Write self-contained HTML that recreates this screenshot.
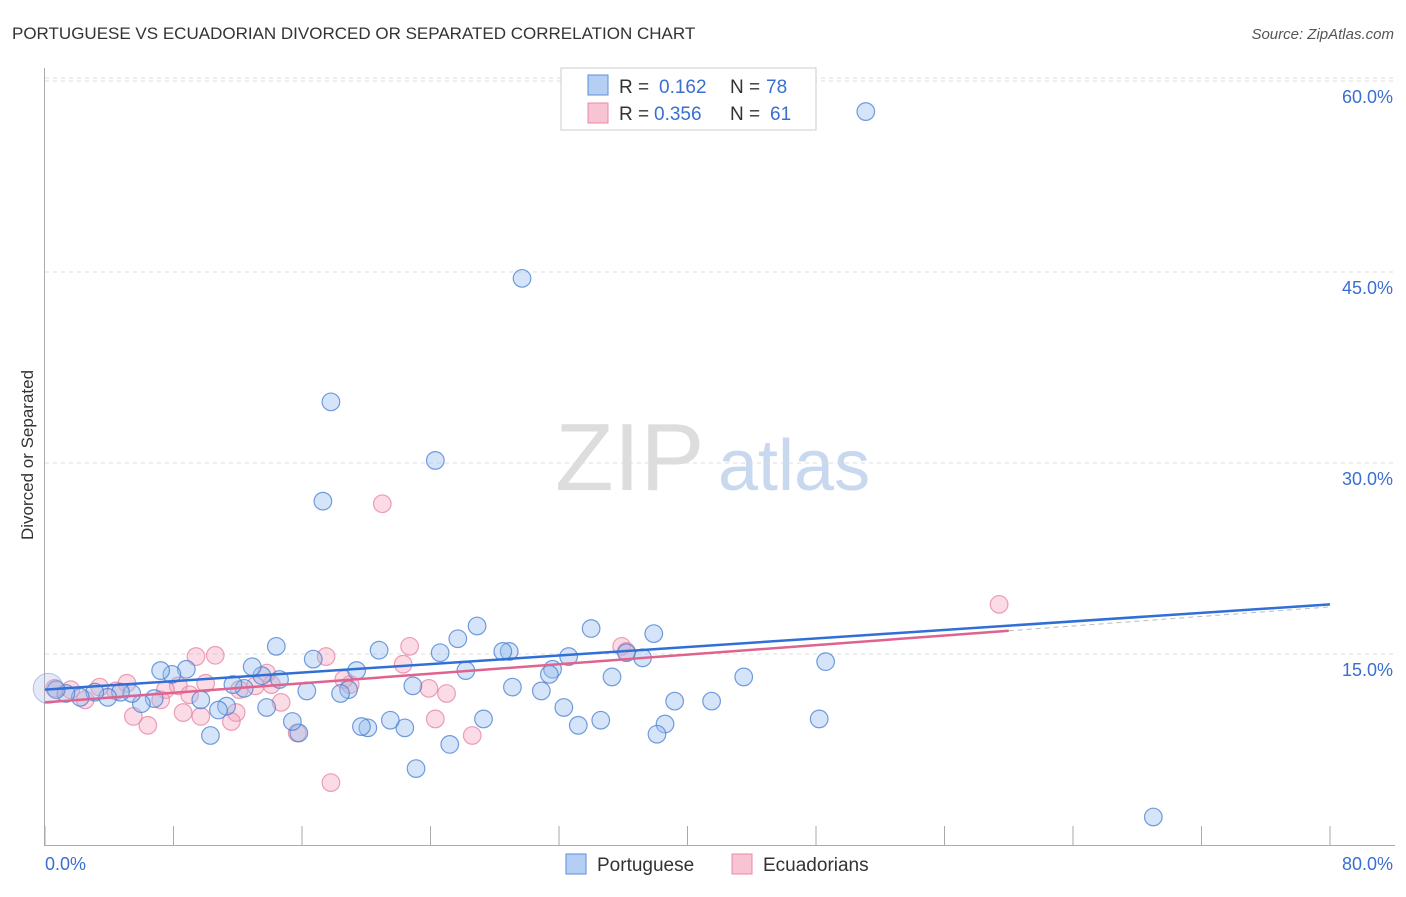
<!DOCTYPE html>
<html><head><meta charset="utf-8"><style>
body{margin:0;background:#fff;font-family:"Liberation Sans",sans-serif}
svg text{font-family:"Liberation Sans",sans-serif}
</style></head><body>
<svg id="c" width="1406" height="892">
<text x="12" y="39" font-size="17" fill="#333">PORTUGUESE VS ECUADORIAN DIVORCED OR SEPARATED CORRELATION CHART</text>
<text x="1394" y="39" font-size="15" fill="#555" text-anchor="end" font-style="italic">Source: ZipAtlas.com</text>
<text x="33" y="455" font-size="17" fill="#333" text-anchor="middle" transform="rotate(-90 33 455)">Divorced or Separated</text>
<text x="555" y="490" font-size="96" fill="#ddd" font-family="Liberation Serif">ZIP</text>
<text x="718" y="490" font-size="72" fill="#c8d8ef">atlas</text>
<g id="grid"></g><g id="pts"></g><g id="lines"></g>
<g>
<rect x="561" y="68" width="255" height="62" fill="#fff" stroke="#ccc"/>
<rect x="588" y="75" width="20" height="20" fill="#b4cff3" stroke="#5b8fd9"/>
<text x="619" y="93" font-size="19" fill="#333">R =</text>
<text x="659" y="93" font-size="19" fill="#3a6fd0">0.162</text>
<text x="730" y="93" font-size="19" fill="#333">N =</text>
<text x="766" y="93" font-size="19" fill="#3a6fd0">78</text>
<rect x="588" y="103" width="20" height="20" fill="#f8c3d2" stroke="#e88aa5"/>
<text x="619" y="120" font-size="19" fill="#333">R =</text>
<text x="654" y="120" font-size="19" fill="#3a6fd0">0.356</text>
<text x="730" y="120" font-size="19" fill="#333">N =</text>
<text x="770" y="120" font-size="19" fill="#3a6fd0">61</text>
</g>
<g>
<rect x="566" y="854" width="20" height="20" fill="#b4cff3" stroke="#5b8fd9"/>
<text x="597" y="871" font-size="19" fill="#333">Portuguese</text>
<rect x="732" y="854" width="20" height="20" fill="#f8c3d2" stroke="#e88aa5"/>
<text x="763" y="871" font-size="19" fill="#333">Ecuadorians</text>
</g>
</svg>
<script>
const blueX=[51.1,29.7,17.8,24.3,17.3,69.0,48.6,48.2,43.5,41.5,39.2,37.9,37.2,36.2,35.3,38.6,38.1,34.6,34.0,33.2,32.6,32.3,31.6,31.4,30.9,29.1,28.9,28.5,27.3,26.9,26.2,25.7,25.2,24.6,23.1,22.9,22.4,21.5,20.8,20.1,19.7,19.4,18.9,18.4,16.7,16.3,15.8,15.4,14.6,14.4,13.8,13.5,12.9,12.4,11.7,11.3,10.8,10.3,9.7,8.8,7.9,7.2,6.8,6.0,5.4,4.7,3.9,3.1,2.2,1.3,0.7];
const blueY=[57.6,44.5,34.8,30.2,27.0,2.2,14.4,9.9,13.2,11.3,11.3,16.6,14.7,15.1,13.2,9.5,8.7,9.8,17.0,9.4,14.8,10.8,13.8,13.4,12.1,12.4,15.2,15.2,9.9,17.2,13.7,16.2,7.9,15.1,6.0,12.5,9.2,9.8,15.3,9.2,9.3,13.7,12.2,11.9,14.6,12.1,8.8,9.7,13.0,15.6,10.8,13.3,14.0,12.3,12.6,10.9,10.6,8.6,11.4,13.8,13.4,13.7,11.5,11.1,11.9,12.0,11.6,12.0,11.6,11.9,12.2];
const pinkX=[59.4,21.0,17.8,26.6,24.3,25.0,23.9,22.7,22.3,19.0,18.6,17.5,15.7,14.7,14.1,13.8,13.1,11.9,11.6,10.6,9.7,9.4,8.6,8.3,7.5,6.4,5.5,5.1,4.4,3.4,2.5,1.6,0.6,35.9,36.2,10.0,12.1,7.2,9.0];
const pinkY=[18.9,26.8,4.9,8.6,9.9,11.9,12.3,15.6,14.2,12.6,13.0,14.8,8.8,11.2,12.6,13.5,12.5,10.4,9.7,14.9,10.1,14.8,10.4,12.5,12.2,9.4,10.1,12.7,12.1,12.4,11.4,12.2,12.3,15.6,15.2,12.7,12.2,11.4,11.8];
const blueTrend=[12.2,18.9];
const pinkTrend=[11.2,18.7];
const pinkSolidEnd=60;
const xTicks=[0,8,16,24,32,40,48,56,64,72,80];
const yTicks=[15,30,45,60];
const yLabels=["15.0%","30.0%","45.0%","60.0%"];
const xs=v=>45+v/80*1285, ys=v=>845-v/15*191;
const NS="http://www.w3.org/2000/svg";
function mk(t,a,p){const e=document.createElementNS(NS,t);for(const k in a)e.setAttribute(k,a[k]);p.appendChild(e);return e;}
const gridG=document.getElementById('grid');
yTicks.forEach((v,i)=>{
 const l=mk('line',{x1:45,x2:1395,y1:ys(v),y2:ys(v),stroke:'#ddd','stroke-dasharray':'4 4'},gridG);
 
 
 const t=mk('text',{x:1393,y:ys(v)+22,'font-size':18,fill:'#3a6fd0','text-anchor':'end'},gridG);t.textContent=yLabels[i];
 
 
});
const topLine=mk('line',{x1:45,x2:1395,y1:78,y2:78,stroke:'#ddd','stroke-dasharray':'4 4'},gridG);


const yAxis=mk('line',{x1:44.5,x2:44.5,y1:68,y2:845,stroke:'#aaa'},gridG);


const xAxis=mk('line',{x1:44,x2:1395,y1:845.5,y2:845.5,stroke:'#aaa'},gridG);


xTicks.forEach(v=>{const l=mk('line',{x1:xs(v),x2:xs(v),y1:826,y2:845,stroke:'#aaa'},gridG);
 
 });
const xl0=mk('text',{x:45,y:870,'font-size':18,fill:'#3a6fd0'},gridG);xl0.textContent='0.0%';


const xl1=mk('text',{x:1393,y:870,'font-size':18,fill:'#3a6fd0','text-anchor':'end'},gridG);xl1.textContent='80.0%';


const ptsG=document.getElementById('pts');
pinkX.forEach((x,i)=>{const c=mk('circle',{cx:xs(x),cy:ys(pinkY[i]),r:8.8,fill:'rgba(244,166,189,0.4)',stroke:'rgba(230,130,160,0.75)','stroke-width':1.2},ptsG);
 
 });
blueX.forEach((x,i)=>{const c=mk('circle',{cx:xs(x),cy:ys(blueY[i]),r:8.8,fill:'rgba(150,187,238,0.4)',stroke:'rgba(70,125,210,0.75)','stroke-width':1.2},ptsG);
 
 });
const bigPt=mk('circle',{cx:xs(0.2),cy:ys(12.3),r:15,fill:'rgba(170,180,225,0.3)',stroke:'rgba(120,140,210,0.5)'},ptsG);


const linesG=document.getElementById('lines');
const pk=v=>pinkTrend[0]+(pinkTrend[1]-pinkTrend[0])*v/80;
const bl=mk('line',{x1:xs(0),y1:ys(blueTrend[0]),x2:xs(80),y2:ys(blueTrend[1]),stroke:'#2f6fd6','stroke-width':2.5},linesG);


const pl=mk('line',{x1:xs(0),y1:ys(pk(0)),x2:xs(pinkSolidEnd),y2:ys(pk(pinkSolidEnd)),stroke:'#e0628e','stroke-width':2.5},linesG);


const pd=mk('line',{x1:xs(pinkSolidEnd),y1:ys(pk(pinkSolidEnd)),x2:xs(80),y2:ys(pk(80)),stroke:'#bbb','stroke-width':1,'stroke-dasharray':'5 4'},linesG);


</script>
</body></html>
